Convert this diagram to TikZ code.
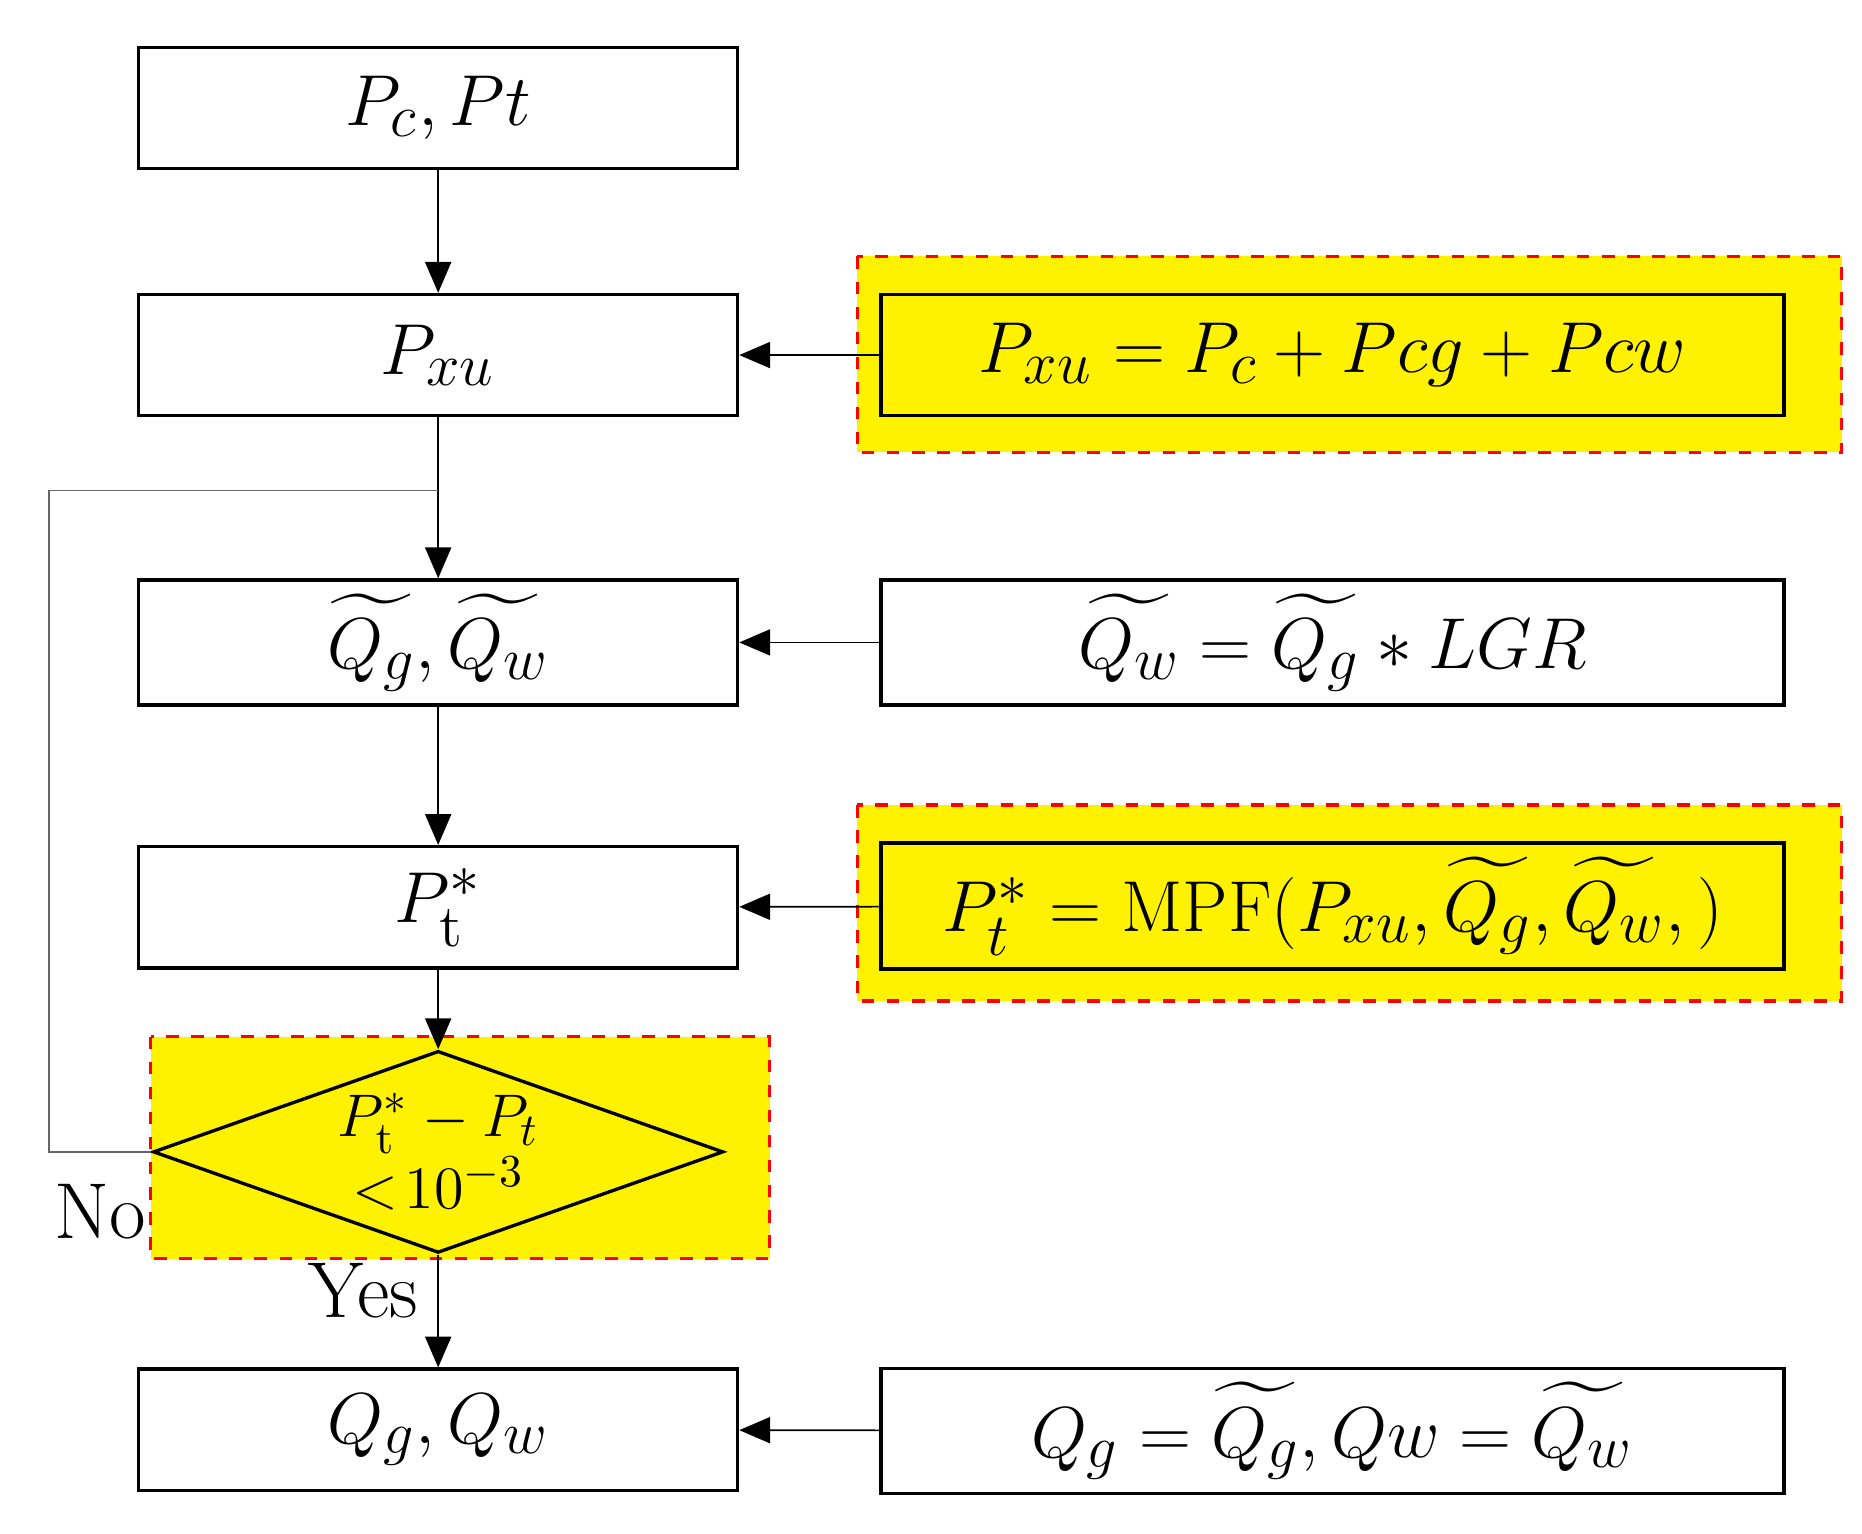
\documentclass[tikz,border=0pt]{standalone}
\usepackage{amsmath,amssymb}
\usepackage{tikz}
\usetikzlibrary{shapes,arrows.meta,positioning,calc,fit,backgrounds}
\begin{document}
\begin{tikzpicture}[x=0.01cm, y=-0.01cm,
    stage/.style={rectangle, draw, thick, minimum width=5.04cm, minimum height=1.02cm, font=\fontsize{19}{22}\selectfont},
    formula/.style={rectangle, draw, thick, minimum width=7.6cm, minimum height=1.02cm, font=\fontsize{19}{22}\selectfont},
    check/.style={diamond, draw, thick, fill=yellow, aspect=2.82, minimum width=4.8cm, minimum height=1.7cm, inner sep=0pt, align=center, font=\fontsize{15}{16}\selectfont},
    hilite/.style={draw=red, dashed, thick, fill=yellow},
    arrow/.style={-{Triangle[length=2.6mm,width=2.2mm]}, thin}
]
    \useasboundingbox (0,0) rectangle (1568,1291);

    % Highlighted areas
    \draw[hilite] (722,216) rectangle (1551,381);
    \draw[hilite] (722,678) rectangle (1551,843);
    \draw[hilite] (127,873) rectangle (648,1060);

    % Main steps
    \node[stage] (pin) at (369, 91) {$P_c, Pt$};
    \node[stage] (pxu) at (369, 299) {$P_{xu}$};
    \node[stage] (qq) at (369, 541) {$\widetilde{Q_g}, \widetilde{Q_w}$};
    \node[stage] (pt) at (369, 764) {$P_{\mathrm{t}}^{*}$};
    \node[check] (conv) at (369, 970) {$P_{\mathrm{t}}^{*}-P_t$\\$<\!10^{-3}$};
    \node[stage] (qout) at (369, 1204) {$Q_g, Q_w$};

    % Formulas
    \node[formula, fill=yellow] (fpxu) at (1122, 299) {$P_{xu} = P_c + Pcg + Pcw$};
    \node[formula] (fqw) at (1122, 541) {$\widetilde{Q_w} = \widetilde{Q_g} * LGR$};
    \node[formula, fill=yellow] (fpt) at (1122, 763) {$P_t^{*} = \mathrm{MPF}(P_{xu}, \widetilde{Q_g}, \widetilde{Q_w},)$};
    \node[formula] (fq) at (1122, 1205) {$Q_g = \widetilde{Q_g}, Qw = \widetilde{Q_w}$};

    % Flow
    \draw[arrow] (pin) -- (pxu);
    \draw[arrow] (pxu) -- (qq);
    \draw[arrow] (qq) -- (pt);
    \draw[arrow] (pt) -- (conv);
    \draw[arrow] (conv) -- (qout);

    % Formulas into steps
    \draw[arrow] (fpxu) -- (pxu);
    \draw[arrow] (fqw) -- (qq);
    \draw[arrow] (fpt) -- (pt);
    \draw[arrow] (fq) -- (qout);

    % Loop back
    \coordinate (split) at (369, 413);
    \draw[gray!80!black] (conv.west) -- (41, 970) -- (41, 413) -- (split);

    % Labels
    \node[font=\fontsize{19}{22}\selectfont] (no) at (84, 1020) {No};
    \node[font=\fontsize{19}{22}\selectfont] (yes) at (306, 1087) {Yes};
\end{tikzpicture}
\end{document}
